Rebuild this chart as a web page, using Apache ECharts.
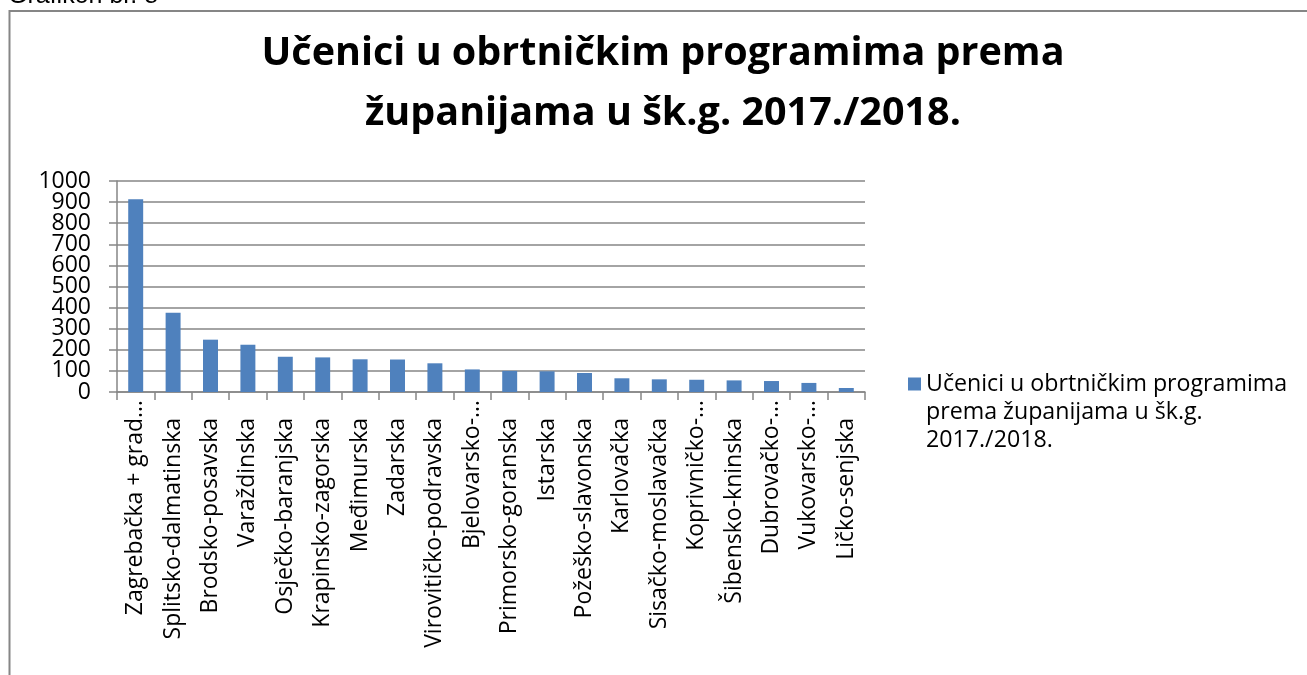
<!DOCTYPE html>
<html><head><meta charset="utf-8">
<script src="https://cdn.jsdelivr.net/npm/echarts@6/dist/echarts.min.js"></script>
<style>html,body{margin:0;padding:0;background:#fff}#c{width:1307px;height:675px}</style>
</head><body><div id="c"></div>
<script>
var categories = ["Zagrebačka + grad…","Splitsko-dalmatinska","Brodsko-posavska","Varaždinska","Osječko-baranjska","Krapinsko-zagorska","Međimurska","Zadarska","Virovitičko-podravska","Bjelovarsko-…","Primorsko-goranska","Istarska","Požeško-slavonska","Karlovačka","Sisačko-moslavačka","Koprivničko-…","Šibensko-kninska","Dubrovačko-…","Vukovarsko-…","Ličko-senjska"];
var values = [913,376,248,224,167,164,155,154,136,107,100,98,90,65,60,58,55,52,43,19];
var yTicks = [0,100,200,300,400,500,600,700,800,900,1000];
var seriesName = "Učenici u obrtničkim programima prema županijama u šk.g. 2017./2018.";
var legendLines = ["Učenici u obrtničkim programima","prema županijama u šk.g.","2017./2018."];
var titleText = "Učenici u obrtničkim programima prema\nžupanijama u šk.g. 2017./2018.";
var caption = "Grafikon br. 8";

var chart = echarts.init(document.getElementById('c'));
var font = "'Open Sans', sans-serif";
var yMin = yTicks[0], yMax = yTicks[yTicks.length-1];
function isEnd(v){ return v===yMin || v===yMax; }
chart.setOption({
  animation:false,
  textStyle:{fontFamily:font},
  title:{text:titleText,left:658,textAlign:'center',top:19,
    textStyle:{fontFamily:font,fontSize:39.5,fontWeight:'bold',color:'#000',lineHeight:60}},
  graphic:[
    {type:'rect',shape:{x:9.5,y:11,width:1400,height:800},style:{fill:'none',stroke:'#868686',lineWidth:2}},
    {type:'text',x:8,y:-4,style:{text:caption,font:"25px 'Liberation Sans', Arial",fill:'#000',verticalAlign:'middle'}}
  ],
  legend:{left:903,top:309,itemWidth:13,itemHeight:13,itemGap:0,icon:'rect',
    formatter:function(){return "\n\n"+legendLines.join("\n");},
    textStyle:{fontFamily:font,fontSize:23.2,color:'#000',lineHeight:28}},
  grid:{left:117,right:442,top:181,bottom:283,containLabel:false},
  xAxis:{type:'category',data:categories,
    axisLine:{lineStyle:{color:'#868686',width:1.5}},
    axisTick:{show:true,length:8,alignWithLabel:false,lineStyle:{color:'#868686',width:1.5}},
    axisLabel:{rotate:90,interval:0,fontFamily:font,fontSize:23,color:'#000',margin:8,
      formatter:function(v){return v.slice(-1)==='…'?'{e|'+v+'}':'{n|'+v+'}';},
      rich:{e:{fontFamily:font,fontSize:23,color:'#000'},
            n:{fontFamily:font,fontSize:23,color:'#000',padding:[0,18,0,0]}}}},
  yAxis:[
    {type:'value',min:yMin,max:yMax,interval:100,
    axisLine:{show:true,lineStyle:{color:'#868686',width:1.5}},
    axisTick:{show:true,length:8,lineStyle:{color:'#868686',width:1.5}},
    splitLine:{lineStyle:{color:'#868686',width:1.5}},
    axisLabel:{fontFamily:font,fontSize:23,color:'#000',margin:26,hideOverlap:false,
      formatter:function(v){return (yTicks.indexOf(v)>=0 && !isEnd(v))?String(v):'';}}},
    {type:'value',min:yMin,max:yMax,interval:100,position:'left',
    axisLine:{show:false},axisTick:{show:false},splitLine:{show:false},
    axisLabel:{fontFamily:font,fontSize:23,color:'#000',margin:26,hideOverlap:false,showMinLabel:true,showMaxLabel:true,
      formatter:function(v){return isEnd(v)?String(v):'';}}}
  ],
  series:[{name:seriesName,type:'bar',data:values,barCategoryGap:'60%',
    itemStyle:{color:'#4F81BD'}}]
});
</script></body></html>
